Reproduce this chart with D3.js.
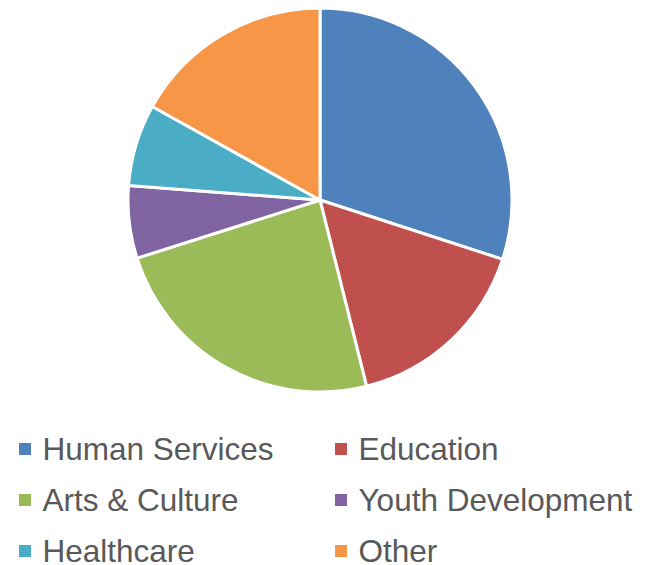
<!DOCTYPE html>
<html>
<head>
<meta charset="utf-8">
<script src="https://cdn.jsdelivr.net/npm/d3@7"></script>
<style>
  body { margin: 0; background: #fff; }
</style>
</head>
<body>
<div id="viz"></div>
<script>
// chart data
var categories = ["Human Services", "Education", "Arts & Culture", "Youth Development", "Healthcare", "Other"];
var shares = [30, 16.1, 24, 6.1, 6.9, 16.9];
var colors = ["#4F81BD", "#C0504D", "#9BBB59", "#8064A2", "#4BACC6", "#F79646"];

var width = 646, height = 565;
var cx = 320, cy = 200, radius = 192;

var svg = d3.select("#viz")
  .append("svg")
  .attr("width", width)
  .attr("height", height);

var color = d3.scaleOrdinal().domain(categories).range(colors);

var pie = d3.pie().sort(null).value(function (d) { return d.value; });
var arc = d3.arc().innerRadius(0).outerRadius(radius);

var data = categories.map(function (c, i) { return { name: c, value: shares[i] }; });

var g = svg.append("g").attr("transform", "translate(" + cx + "," + cy + ")");

g.selectAll("path")
  .data(pie(data))
  .enter()
  .append("path")
  .attr("d", arc)
  .attr("fill", function (d) { return color(d.data.name); })
  .attr("stroke", "#fff")
  .attr("stroke-width", 3)
  .attr("stroke-linejoin", "round");

// legend, two columns
var colX = [19, 335];
var rowY = [449, 500, 551];

var legend = svg.append("g");
var items = legend.selectAll("g")
  .data(data)
  .enter()
  .append("g")
  .attr("transform", function (d, i) {
    return "translate(" + colX[i % 2] + "," + rowY[Math.floor(i / 2)] + ")";
  });

items.append("rect")
  .attr("x", 0)
  .attr("y", -6)
  .attr("width", 12)
  .attr("height", 12)
  .attr("fill", function (d) { return color(d.name); });

items.append("text")
  .attr("x", 23.5)
  .attr("y", 10.5)
  .attr("font-family", "'Liberation Sans', Arial, sans-serif")
  .attr("font-size", 31.5)
  .attr("fill", "#595959")
  .text(function (d) { return d.name; });
</script>
</body>
</html>
